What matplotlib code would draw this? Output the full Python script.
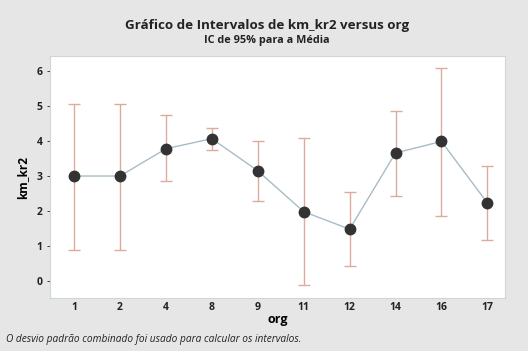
import matplotlib.pyplot as plt
import numpy as np

plt.rcParams["font.family"] = ["Open Sans", "DejaVu Sans"]

orgs = ["1", "2", "4", "8", "9", "11", "12", "14", "16", "17"]
means = [3.0, 3.0, 3.78, 4.07, 3.15, 1.98, 1.48, 3.66, 3.99, 2.23]
lower = [0.89, 0.89, 2.85, 3.75, 2.29, -0.12, 0.43, 2.44, 1.87, 1.17]
upper = [5.07, 5.07, 4.74, 4.38, 4.01, 4.09, 2.54, 4.86, 6.09, 3.28]

bg = "#e6e6e6"
fig = plt.figure(figsize=(5.28, 3.51), dpi=100, facecolor=bg)
ax = fig.add_axes([0.095, 0.151, 0.862, 0.689])
ax.set_facecolor("white")

x = np.arange(len(orgs))
m = np.array(means)
yerr = [m - np.array(lower), np.array(upper) - m]

ax.plot(x, m, color="#a9bcc6", linewidth=1.0, zorder=2)
eb = ax.errorbar(x, m, yerr=yerr, fmt="none", ecolor="#dcab9e",
                 elinewidth=1.0, capsize=4, capthick=1.0, zorder=1)
for cap in eb[1]:
    cap.set_color("#8fa0aa")
ax.plot(x, m, "o", color="#333333", markersize=7.5, zorder=3)

ax.set_xlim(-0.52, 9.39)
ax.set_ylim(-0.49, 6.43)
ax.set_xticks(x)
ax.set_xticklabels(orgs)
ax.set_yticks(range(0, 7))
ax.tick_params(labelsize=7.5, colors="#222222", length=2, width=0.6)
for lab in ax.get_xticklabels() + ax.get_yticklabels():
    lab.set_fontweight("bold")
ax.tick_params(axis="x", length=0, pad=3)
for s in ax.spines.values():
    s.set_color("#cfd6da")
    s.set_linewidth(0.8)

ax.set_xlabel("org", fontsize=9, fontweight="bold", labelpad=0)
ax.set_ylabel("km_kr2", fontsize=8.5, fontweight="bold", labelpad=5)

fig.text(0.506, 0.928, "Gráfico de Intervalos de km_kr2 versus org",
         ha="center", va="center", fontsize=9.6, fontweight="bold", color="#222222")
fig.text(0.506, 0.885, "IC de 95% para a Média",
         ha="center", va="center", fontsize=7.8, fontweight="bold", color="#222222")
fig.text(0.012, 0.032, "O desvio padrão combinado foi usado para calcular os intervalos.",
         ha="left", va="center", fontsize=7.3, style="italic", color="#222222")

fig.savefig("out.png", dpi=100, facecolor=bg)
